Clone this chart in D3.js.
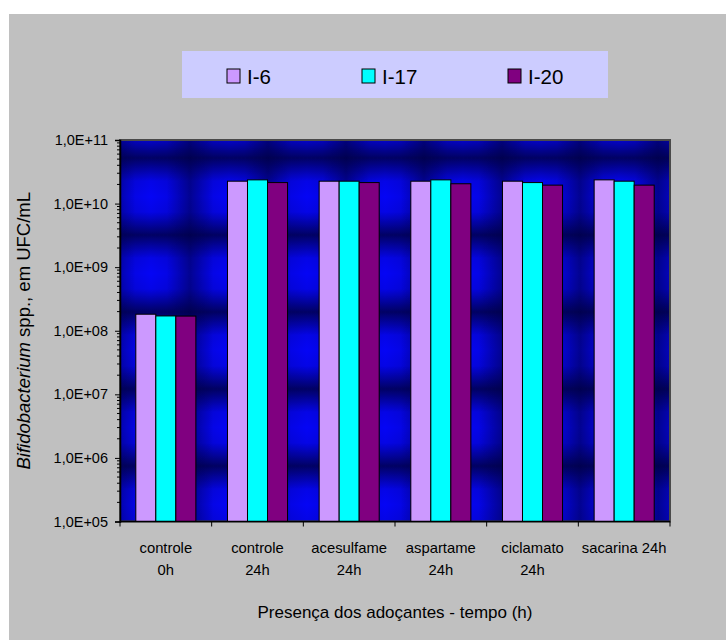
<!DOCTYPE html>
<html>
<head>
<meta charset="utf-8">
<script src="https://cdn.jsdelivr.net/npm/d3@7"></script>
<style>
  html, body { margin: 0; padding: 0; background: #ffffff; }
  svg { display: block; font-family: "Liberation Sans", Arial, sans-serif; }
</style>
</head>
<body>
<svg id="chart" width="726" height="640"></svg>
<script>
// Bifidobacterium counts (UFC/mL) per sweetener treatment and strain
const categories = ["controle\n0h", "controle\n24h", "acesulfame\n24h", "aspartame\n24h", "ciclamato\n24h", "sacarina 24h"];
const series = ["I-6", "I-17", "I-20"];
const valuesI6  = [1.82e8, 2.25e10, 2.25e10, 2.25e10, 2.25e10, 2.36e10];
const valuesI17 = [1.71e8, 2.36e10, 2.25e10, 2.36e10, 2.14e10, 2.25e10];
const valuesI20 = [1.70e8, 2.14e10, 2.14e10, 2.05e10, 1.95e10, 1.95e10];
const yTickValues = [1e5, 1e6, 1e7, 1e8, 1e9, 1e10, 1e11];
const colors = ["#cc99ff", "#00ffff", "#800080"];
const yTitleItalic = "Bifidobacterium";
const yTitleRest = " spp., em UFC/mL";
const xTitle = "Presença dos adoçantes - tempo (h)";

const seriesValues = [valuesI6, valuesI17, valuesI20];
const rows = categories.map((c, i) => ({
  cat: c,
  vals: series.map((s, j) => ({ key: s, value: seriesValues[j][i], color: colors[j] }))
}));

const svg = d3.select("#chart");
const W = 726, H = 640;
const plot = { left: 120, right: 670, top: 140, bottom: 521.5 };

// chart area background
svg.append("rect").attr("x", 9).attr("y", 14).attr("width", W - 9).attr("height", H - 14)
  .attr("fill", "#c0c0c0");

// textured plot-area fill: bright blue cells separated by soft dark bands
const defs = svg.append("defs");
const vg = defs.append("linearGradient").attr("id", "bandV").attr("x1", 0).attr("y1", 0).attr("x2", 0).attr("y2", 1);
const hg = defs.append("linearGradient").attr("id", "bandH").attr("x1", 0).attr("y1", 0).attr("x2", 1).attr("y2", 0);
[vg, hg].forEach((g, k) => {
  const a = k === 0 ? 0.8 : 0.55;
  g.append("stop").attr("offset", "0%").attr("stop-color", "#000040").attr("stop-opacity", a);
  g.append("stop").attr("offset", "30%").attr("stop-color", "#000040").attr("stop-opacity", 0.08);
  g.append("stop").attr("offset", "50%").attr("stop-color", "#000040").attr("stop-opacity", 0);
  g.append("stop").attr("offset", "70%").attr("stop-color", "#000040").attr("stop-opacity", 0.08);
  g.append("stop").attr("offset", "100%").attr("stop-color", "#000040").attr("stop-opacity", a);
});
const pat = defs.append("pattern").attr("id", "tex")
  .attr("patternUnits", "userSpaceOnUse")
  .attr("x", 112).attr("y", 158).attr("width", 78).attr("height", 77);
pat.append("rect").attr("width", 78).attr("height", 77).attr("fill", "#0505f5");
pat.append("rect").attr("width", 78).attr("height", 77).attr("fill", "url(#bandV)");
pat.append("rect").attr("width", 78).attr("height", 77).attr("fill", "url(#bandH)");

svg.append("rect")
  .attr("x", plot.left).attr("y", plot.top)
  .attr("width", plot.right - plot.left).attr("height", plot.bottom - plot.top)
  .attr("fill", "url(#tex)")
  .attr("stroke", "#4a4a4a").attr("stroke-width", 2);

// scales
const y = d3.scaleLog().domain([1e5, 1e11]).range([plot.bottom, plot.top]);
const x0 = d3.scaleBand().domain(categories).range([plot.left, plot.right]).paddingInner(0).paddingOuter(0);
const x1 = d3.scaleBand().domain(series).range([0, x0.bandwidth()]).paddingInner(0).paddingOuter(0.79);

// bars
const groups = svg.append("g").selectAll("g").data(rows).join("g")
  .attr("transform", d => `translate(${x0(d.cat)},0)`);
groups.selectAll("rect").data(d => d.vals).join("rect")
  .attr("x", d => x1(d.key))
  .attr("y", d => y(d.value))
  .attr("width", x1.bandwidth())
  .attr("height", d => y(1e5) - y(d.value))
  .attr("fill", d => d.color)
  .attr("stroke", "#000").attr("stroke-width", 1);

// y axis with log minor ticks
const fmt = v => "1,0E+" + String(Math.round(Math.log10(v))).padStart(2, "0");
const yAxisG = svg.append("g").attr("transform", `translate(${plot.left},0)`);
const minorTicks = y.ticks().filter(v => !yTickValues.includes(v));
yAxisG.selectAll("line.minor").data(minorTicks).join("line").attr("class", "minor")
  .attr("x1", -3).attr("x2", 0).attr("y1", d => y(d)).attr("y2", d => y(d))
  .attr("stroke", "#000").attr("stroke-width", 1);
yAxisG.call(d3.axisLeft(y).tickValues(yTickValues).tickFormat(fmt).tickSize(5).tickPadding(7))
  .call(g => g.select(".domain").attr("stroke", "#000").attr("stroke-width", 1.5))
  .call(g => g.selectAll(".tick line").attr("stroke", "#000"))
  .call(g => g.selectAll(".tick text").attr("font-size", 14.5).attr("fill", "#000")
    .attr("font-family", "Liberation Sans, Arial, sans-serif"));

// x axis: ticks at category boundaries
const xAxisG = svg.append("g");
xAxisG.append("line").attr("x1", plot.left).attr("x2", plot.right)
  .attr("y1", plot.bottom).attr("y2", plot.bottom).attr("stroke", "#000").attr("stroke-width", 1.5);
const bounds = categories.map(c => x0(c)).concat([plot.right]);
xAxisG.selectAll("line.tk").data(bounds).join("line").attr("class", "tk")
  .attr("x1", d => d).attr("x2", d => d).attr("y1", plot.bottom).attr("y2", plot.bottom + 5)
  .attr("stroke", "#000").attr("stroke-width", 1);
const catLabels = xAxisG.selectAll("text.cat").data(categories).join("text").attr("class", "cat")
  .attr("text-anchor", "middle").attr("font-size", 14.8).attr("fill", "#000");
catLabels.each(function(d) {
  const t = d3.select(this);
  d.split("\n").forEach((line, i) => {
    t.append("tspan").attr("x", x0(d) + x0.bandwidth() / 2).attr("y", 553 + i * 22).text(line);
  });
});

// axis titles
svg.append("text").attr("x", (plot.left + plot.right) / 2).attr("y", 618)
  .attr("text-anchor", "middle").attr("font-size", 17).attr("fill", "#000").text(xTitle);
const yt = svg.append("text")
  .attr("transform", `translate(30,${(plot.top + plot.bottom) / 2}) rotate(-90)`)
  .attr("text-anchor", "middle").attr("font-size", 18.5).attr("fill", "#000");
yt.append("tspan").attr("font-style", "italic").text(yTitleItalic);
yt.append("tspan").text(yTitleRest);

// legend
svg.append("rect").attr("x", 182).attr("y", 51).attr("width", 426).attr("height", 47).attr("fill", "#ccccff");
const legendX = [227, 362, 508];
const lg = svg.append("g").selectAll("g").data(series).join("g")
  .attr("transform", (d, i) => `translate(${legendX[i]},69)`);
lg.append("rect").attr("width", 13).attr("height", 14)
  .attr("fill", (d, i) => colors[i]).attr("stroke", "#000").attr("stroke-width", 1);
lg.append("text").attr("x", 20).attr("y", 14.5).attr("font-size", 20.5).attr("fill", "#000").text(d => d);
</script>
</body>
</html>
